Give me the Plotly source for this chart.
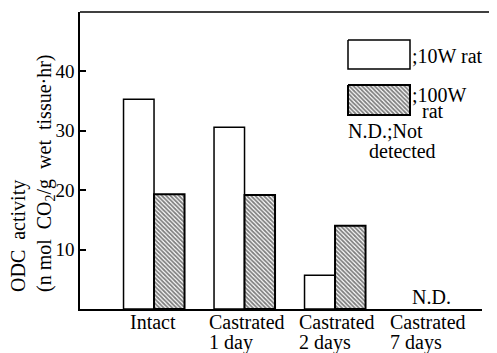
import plotly.graph_objects as go

categories = ["Intact", "Castrated 1 day", "Castrated 2 days", "Castrated 7 days"]
label_line1 = ["Intact", "Castrated", "Castrated", "Castrated"]
label_line2 = ["", "1 day", "2 days", "7 days"]
rat10w = [35.3, 30.6, 5.7, None]
rat100w = [19.3, 19.2, 14.0, None]
nd_label = "N.D."
y_ticks = [10, 20, 30, 40]

FONT = "Times New Roman, Liberation Serif, DejaVu Serif, serif"
OFF = 8  # page body margin
W, H = 497 - OFF, 353 - OFF
# plot area in screen pixels: left 80, right 482, top 12, bottom 309
L, R, T, B = 80 - OFF, 497 - 482, 12 - OFF, 353 - 309
PW, PH = W - L - R, H - T - B

fig = go.Figure()
fig.add_trace(go.Bar(
    x=categories, y=rat10w, name="10W rat",
    marker=dict(color="white", line=dict(color="black", width=1.5)),
    showlegend=False,
))
fig.add_trace(go.Bar(
    x=categories, y=rat100w, name="100W rat",
    marker=dict(color="white", line=dict(color="black", width=2),
                pattern=dict(shape="\\", fgcolor="black", bgcolor="white",
                             size=3, solidity=0.6, fillmode="overlay")),
    showlegend=False,
))

# Legend swatches drawn in an overlay axis whose units are screen pixels
def rect(x0, y0, x1, y1):
    return [x0, x1, x1, x0, x0], [y0, y0, y1, y1, y0]

lx, ly = rect(348, 40, 410, 69)
fig.add_trace(go.Scatter(x=lx, y=ly, xaxis="x2", yaxis="y2", mode="lines",
                         fill="toself", fillcolor="white",
                         line=dict(color="black", width=1.5), showlegend=False,
                         hoverinfo="skip"))
hx, hy = rect(348, 85, 410, 115)
fig.add_trace(go.Scatter(x=hx, y=hy, xaxis="x2", yaxis="y2", mode="lines",
                         fill="toself", fillcolor="white",
                         fillpattern=dict(shape="\\", fgcolor="black", bgcolor="white",
                                          size=3, solidity=0.6),
                         line=dict(color="black", width=2), showlegend=False,
                         hoverinfo="skip"))

tf = dict(family=FONT, size=20, color="black")
annotations = []
for i, (l1, l2) in enumerate(zip(label_line1, label_line2)):
    if l2:
        annotations.append(dict(x=i, y=0, xref="x", yref="paper", text=l1,
                                showarrow=False, xanchor="left", yanchor="middle",
                                xshift=-38, yshift=-13, font=tf))
        annotations.append(dict(x=i, y=0, xref="x", yref="paper", text=l2,
                                showarrow=False, xanchor="left", yanchor="middle",
                                xshift=-38, yshift=-33, font=tf))
    else:
        annotations.append(dict(x=i, y=0, xref="x", yref="paper", text=l1,
                                showarrow=False, xanchor="center", yanchor="middle",
                                xshift=-1, yshift=-13, font=tf))
annotations.append(dict(x=3, y=0, xref="x", yref="y", text=nd_label,
                        showarrow=False, xanchor="center", yanchor="bottom",
                        xshift=6, yshift=-1, font=tf))


def px_to_paper(px, py):
    return (px - OFF - L) / PW, (H - B - (py - OFF)) / PH


tx, ty = px_to_paper(32, 173)
annotations.append(dict(x=tx, y=ty, xref="paper", yref="paper", textangle=-90,
                        text="ODC  activity<br>(n mol  CO<sub>2</sub>/g  wet  tissue·hr)",
                        showarrow=False, xanchor="center", yanchor="middle",
                        align="left", font=tf))

for (px, py, txt) in [
    (410, 56, ";10W rat"),
    (410, 95, ";100W"),
    (420, 111, "rat"),
    (346, 131, "N.D.;Not"),
    (367, 151, "detected"),
]:
    xp, yp = px_to_paper(px, py)
    annotations.append(dict(x=xp, y=yp, xref="paper", yref="paper", text=txt,
                            showarrow=False, xanchor="left", yanchor="middle",
                            align="left", font=tf))

fig.update_layout(
    width=W, height=H,
    margin=dict(l=L, r=R, t=T, b=B, autoexpand=False),
    paper_bgcolor="white", plot_bgcolor="white",
    barmode="group", bargap=0.326, bargroupgap=0,
    font=dict(family=FONT, size=18, color="black"),
    xaxis=dict(range=[-0.818, 3.624], showticklabels=False, ticks="",
               showline=True, linecolor="black", linewidth=1.5,
               showgrid=False, zeroline=False, fixedrange=True, automargin=False),
    yaxis=dict(range=[0, 50], tickvals=y_ticks, ticks="inside", ticklen=6,
               tickwidth=1.5, tickcolor="black", automargin=False,
               showline=True, linecolor="black", linewidth=1.5,
               showgrid=False, zeroline=False,
               tickfont=dict(family=FONT, size=19, color="black")),
    xaxis2=dict(domain=[0, 1], range=[80, 482], overlaying="x", visible=False,
                fixedrange=True),
    yaxis2=dict(domain=[0, 1], range=[309, 12], overlaying="y", visible=False,
                fixedrange=True),
    annotations=annotations,
    shapes=[dict(type="line", xref="paper", yref="paper", x0=0,
                 x1=(W - L) / PW, y0=1, y1=1,
                 line=dict(color="black", width=1.5))],
)

fig.write_html("out.html")
